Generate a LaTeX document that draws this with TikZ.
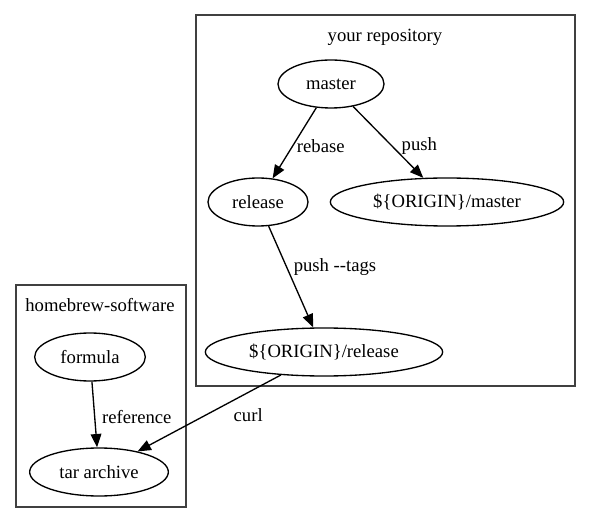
\documentclass[tikz,border=0pt]{standalone}
\usepackage{fontspec}
\setmainfont{Liberation Serif}
\usepackage{tikz}
\usetikzlibrary{shapes.geometric, arrows.meta}

\begin{document}
\begin{tikzpicture}[x=0.75pt, y=-0.75pt, >={Triangle[length=10pt, width=8pt]},
    every node/.style={font=\fontsize{14}{16}\selectfont},
    branch/.style={ellipse, draw, line width=1pt, inner sep=0pt, minimum height=36pt},
    cluster/.style={draw=black!75, line width=1pt},
    lbl/.style={anchor=west, inner sep=2pt}]
    \useasboundingbox (0,0) rectangle (591,523);

    % Clusters
    \draw[cluster] (196,15) rectangle (575,386);
    \node (repo) at (385,37) {your repository};
    \draw[cluster] (16,285) rectangle (186,507);
    \node (brew) at (100,305) {homebrew-software};

    % Branches
    \node[branch, minimum width=79.5pt] (master)   at (331,84)  {master};
    \node[branch, minimum width=75pt]   (release)  at (258,202) {release};
    \node[branch, minimum width=175pt]  (omaster)  at (447,202) {\$\{ORIGIN\}/master};
    \node[branch, minimum width=178pt]  (orelease) at (324,352) {\$\{ORIGIN\}/release};
    \node[branch, minimum width=83pt]   (formula)  at (90,357)  {formula};
    \node[branch, minimum width=104pt]  (tar)      at (99,472)  {tar archive};

    % Edges
    \path[->, line width=1pt]
      (master)   edge node [lbl, pos=0.55, xshift=1pt]  {rebase}         (release)
      (master)   edge node [lbl, pos=0.55, xshift=5pt]  {push}           (omaster)
      (release)  edge node [lbl, pos=0.4, xshift=3pt]   {push -{}-tags}  (orelease)
      (formula)  edge node [lbl, pos=0.54, xshift=3pt]  {reference}      (tar)
      (orelease) edge node [lbl, pos=0.52, xshift=18pt] {curl}           (tar);
\end{tikzpicture}
\end{document}
